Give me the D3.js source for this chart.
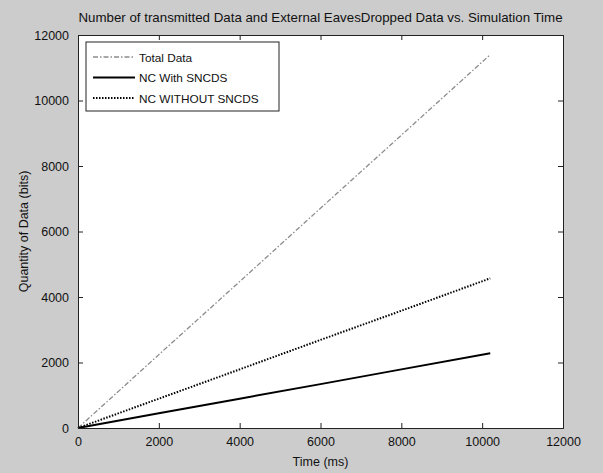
<!DOCTYPE html>
<html>
<head>
<meta charset="utf-8">
<script src="https://cdn.jsdelivr.net/npm/d3@7"></script>
<style>
body{margin:0;background:#cccccc;}
svg{display:block;font-family:"Liberation Sans",Arial,sans-serif;}
</style>
</head>
<body>
<svg width="603" height="473"></svg>
<script>
// values
var timeMs = [0, 2000, 4000, 6000, 8000, 10200];
var totalData = [0, 2240, 4470, 6710, 8940, 11400];
var withSncds = [0, 450, 895, 1340, 1790, 2280];
var withoutSncds = [0, 895, 1790, 2690, 3580, 4570];
var xTicks = [0, 2000, 4000, 6000, 8000, 10000, 12000];
var yTicks = [0, 2000, 4000, 6000, 8000, 10000, 12000];

var series = [
  {name: "Total Data", values: totalData, dash: "5,2,1.5,2", color: "#8c8c8c", width: 1.3},
  {name: "NC With SNCDS", values: withSncds, dash: null, color: "#000", width: 2},
  {name: "NC WITHOUT SNCDS", values: withoutSncds, dash: "1.5,1.5", color: "#000", width: 2}
];

var svg = d3.select("svg");
var pLeft = 78, pRight = 563, pTop = 35, pBottom = 428;

var x = d3.scaleLinear().domain([0, 12000]).range([pLeft, pRight]);
var y = d3.scaleLinear().domain([0, 12000]).range([pBottom, pTop]);

// plot area
svg.append("rect")
  .attr("x", pLeft).attr("y", pTop)
  .attr("width", pRight - pLeft).attr("height", pBottom - pTop)
  .attr("fill", "#fff");

// lines
var line = d3.line()
  .x(function(d, i) { return x(timeMs[i]); })
  .y(function(d) { return y(d); });

series.forEach(function(s) {
  svg.append("path")
    .datum(s.values)
    .attr("d", line)
    .attr("fill", "none")
    .attr("stroke", s.color)
    .attr("stroke-width", s.width)
    .attr("stroke-dasharray", s.dash);
});

// axes, matlab style: ticks inside, box all round
var tl = 5;
svg.append("g")
  .attr("transform", "translate(0," + pBottom + ")")
  .call(d3.axisBottom(x).tickValues(xTicks).tickSize(-tl).tickPadding(9).tickFormat(d3.format("d")));
svg.append("g")
  .attr("transform", "translate(0," + pTop + ")")
  .call(d3.axisTop(x).tickValues(xTicks).tickSize(-tl).tickFormat(""));
svg.append("g")
  .attr("transform", "translate(" + pLeft + ",0)")
  .call(d3.axisLeft(y).tickValues(yTicks).tickSize(-tl).tickPadding(9).tickFormat(d3.format("d")));
svg.append("g")
  .attr("transform", "translate(" + pRight + ",0)")
  .call(d3.axisRight(y).tickValues(yTicks).tickSize(-tl).tickFormat(""));

svg.selectAll(".domain").attr("stroke", "#222");
svg.selectAll(".tick line").attr("stroke", "#222");
svg.selectAll(".tick text").attr("font-size", 12.5).attr("fill", "#111")
  .attr("font-family", "Liberation Sans, Arial, sans-serif");

// titles
svg.append("text")
  .attr("x", (pLeft + pRight) / 2).attr("y", 22)
  .attr("text-anchor", "middle").attr("font-size", 13.3).attr("fill", "#111")
  .text("Number of transmitted Data and External EavesDropped Data vs. Simulation Time");
svg.append("text")
  .attr("x", (pLeft + pRight) / 2).attr("y", 466)
  .attr("text-anchor", "middle").attr("font-size", 12.5).attr("fill", "#111")
  .text("Time (ms)");
svg.append("text")
  .attr("transform", "translate(28," + (pTop + pBottom) / 2 + ") rotate(-90)")
  .attr("text-anchor", "middle").attr("font-size", 12.5).attr("fill", "#111")
  .text("Quantity of Data (bits)");

// legend
var lg = svg.append("g");
lg.append("rect")
  .attr("x", 86).attr("y", 42).attr("width", 193).attr("height", 69)
  .attr("fill", "#fff").attr("stroke", "#222").attr("stroke-width", 1);
series.forEach(function(s, i) {
  var ly = 57 + i * 20.5;
  lg.append("line")
    .attr("x1", 93).attr("x2", 135).attr("y1", ly).attr("y2", ly)
    .attr("stroke", s.color).attr("stroke-width", s.width)
    .attr("stroke-dasharray", s.dash);
  lg.append("text")
    .attr("x", 139).attr("y", ly + 4.5)
    .attr("font-size", 11.8).attr("fill", "#111")
    .text(s.name);
});
</script>
</body>
</html>
